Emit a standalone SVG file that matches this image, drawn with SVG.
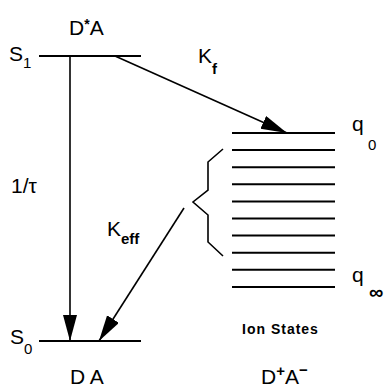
<svg xmlns="http://www.w3.org/2000/svg" width="390" height="388" viewBox="0 0 390 388">
<defs>
<marker id="ah" markerUnits="userSpaceOnUse" markerWidth="28" markerHeight="16" refX="26" refY="7" orient="auto">
<path d="M0,0 L26,7 L0,14 z" fill="#000"/>
</marker>
<style>
.lvl{stroke:#000;stroke-width:2;fill:none}
.ln{stroke:#000;stroke-width:1.6;fill:none}
.t{font-family:"Liberation Sans",Arial,sans-serif;fill:#000;font-size:21px}
.s{font-family:"Liberation Sans",Arial,sans-serif;fill:#000;font-size:15px}
.b{font-family:"Liberation Sans",Arial,sans-serif;fill:#000;font-weight:bold}
</style>
</defs>
<rect width="390" height="388" fill="#fff"/>
<g id="S1">
<line class="lvl" x1="39" y1="56" x2="141" y2="56"/>
<text class="t" x="9" y="61">S<tspan class="s" dy="7">1</tspan></text>
<text class="t" x="69" y="35">D<tspan class="b" font-size="14" dy="-6">*</tspan><tspan dy="6">A</tspan></text>
</g>
<g id="S0">
<line class="lvl" x1="39" y1="341" x2="141" y2="341"/>
<text class="t" x="10" y="344">S<tspan class="s" dy="10">0</tspan></text>
<text class="t" x="70" y="384">D A</text>
</g>
<g id="ion">
<g class="lvl">
<line x1="232" y1="133" x2="335" y2="133"/>
<line x1="232" y1="150.1" x2="335" y2="150.1"/>
<line x1="232" y1="167.2" x2="335" y2="167.2"/>
<line x1="232" y1="184.3" x2="335" y2="184.3"/>
<line x1="232" y1="201.4" x2="335" y2="201.4"/>
<line x1="232" y1="218.5" x2="335" y2="218.5"/>
<line x1="232" y1="235.6" x2="335" y2="235.6"/>
<line x1="232" y1="252.7" x2="335" y2="252.7"/>
<line x1="232" y1="269.8" x2="335" y2="269.8"/>
<line x1="232" y1="286.9" x2="335" y2="286.9"/>
</g>
<path class="ln" d="M223,149 L208,162 L208,190 L193,202 L208,215 L208,242 L223,256"/>
<text class="t" x="352" y="131">q</text>
<text class="s" x="368" y="150">0</text>
<text class="t" x="352" y="282">q</text>
<text class="b" x="369" y="299" font-size="20">∞</text>
<text class="b" x="242" y="334" font-size="14" letter-spacing="1">Ion States</text>
<text class="t" x="261" y="384">D<tspan class="b" font-size="15" dy="-8">+</tspan><tspan dy="8">A</tspan><tspan class="b" font-size="15" dy="-9">−</tspan></text>
</g>
<g id="connectors">
<line class="ln" x1="70" y1="56" x2="70" y2="341" marker-end="url(#ah)"/>
<line class="ln" x1="115" y1="56" x2="287" y2="133" marker-end="url(#ah)"/>
<line class="ln" x1="184" y1="208" x2="99" y2="341" marker-end="url(#ah)"/>
<text class="t" x="11" y="193">1/τ</text>
<text class="t" x="198" y="63">K<tspan class="b" font-size="15" dy="11">f</tspan></text>
<text class="t" x="107" y="236">K<tspan class="b" font-size="15" dy="8">eff</tspan></text>
</g>
</svg>
